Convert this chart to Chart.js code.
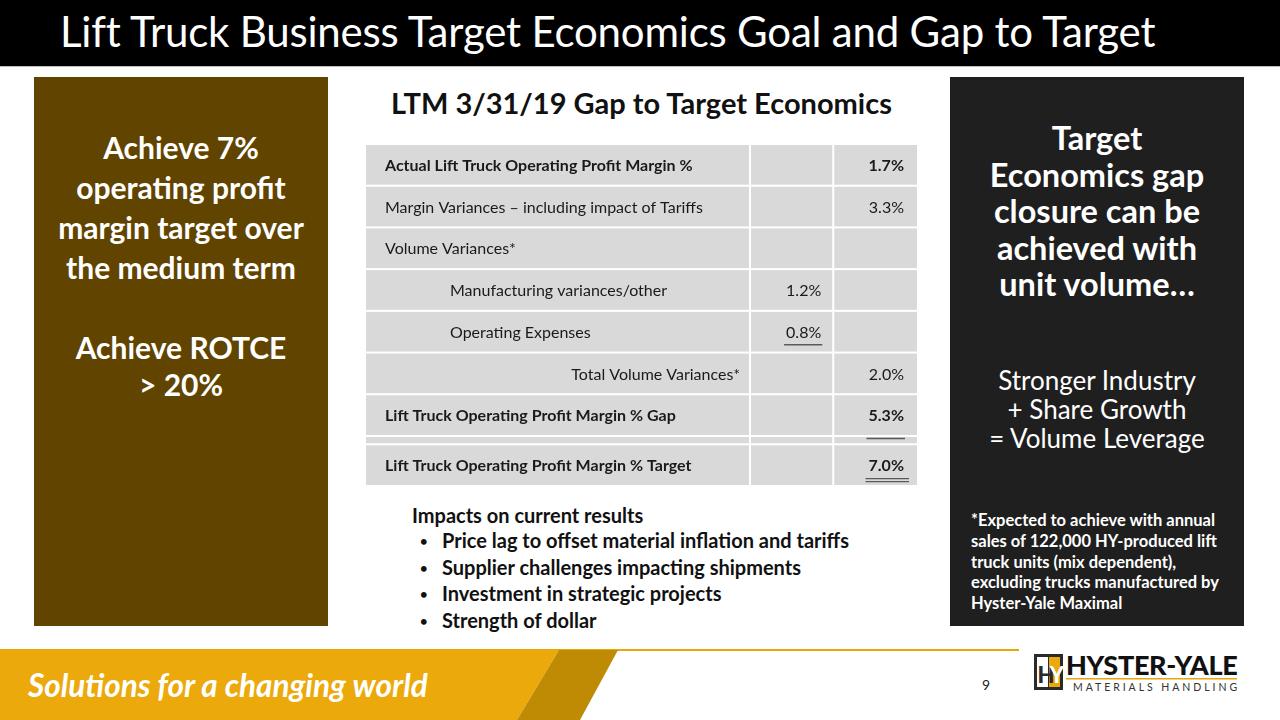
<!DOCTYPE html>
<html>
<head>
<meta charset="utf-8">
<script src="https://cdn.jsdelivr.net/npm/chart.js@4/dist/chart.umd.min.js"></script>
<style>
  html, body { margin:0; padding:0; }
  body { width:1280px; height:720px; position:relative; overflow:hidden; background:#fff; font-family: Lato, "Open Sans", sans-serif; }
  .abs { position:absolute; }
  #titlebar { left:0; top:0; width:1280px; height:66px; background:#000; border-bottom:1px solid #bfbfbf; }
  #title { left:60px; top:6px; color:#fff; font-size:42px; white-space:nowrap; letter-spacing:-0.2px; }
  #leftpanel { left:34px; top:77px; width:294px; height:549px; background:#614400; color:#fff; text-align:center; font-weight:bold; font-size:30px; line-height:40px; }
  #rightpanel { left:950px; top:77px; width:294px; height:549px; background:#1f1f1f; color:#fff; }
  #rp1 { left:0; top:43px; width:294px; text-align:center; font-weight:bold; font-size:32.5px; line-height:36.5px; }
  #rp2 { left:0; top:289px; width:294px; text-align:center; font-size:26px; line-height:29px; }
  #rp3 { left:21px; top:433px; width:273px; font-weight:bold; font-size:16.5px; line-height:20.8px; white-space:nowrap; }
  #midtitle { left:366px; top:85px; width:551px; text-align:center; font-weight:bold; font-size:29px; color:#111; white-space:nowrap; }
  #tablewrap { left:366px; top:144px; width:551px; height:342px; }
  #impacts { left:412px; top:503px; font-weight:bold; font-size:20px; line-height:25.4px; color:#111; white-space:nowrap; }
  #impacts .d { display:inline-block; width:30px; padding-left:8px; box-sizing:border-box; font-size:13px; vertical-align:2px; }
  #banner { left:0; top:648px; width:1280px; height:72px; }
  #slogan { left:28px; top:666px; color:#fff; font-weight:bold; font-style:italic; font-size:31.5px; white-space:nowrap; }
  #pagenum { left:982px; top:676px; font-size:14px; color:#222; }
  #logo1 { left:1066px; top:648px; font-weight:900; font-size:27px; color:#111; letter-spacing:-0.3px; white-space:nowrap; }
  #logo2 { left:1073px; top:681px; font-size:10.5px; color:#333; letter-spacing:2.95px; white-space:nowrap; }
</style>
</head>
<body>
<script>
// ---- Data ----
const rowLabels = [
  "Actual Lift Truck Operating Profit Margin %",
  "Margin Variances \u2013 including impact of Tariffs",
  "Volume Variances*",
  "Manufacturing variances/other",
  "Operating Expenses",
  "Total Volume Variances*",
  "Lift Truck Operating Profit Margin % Gap",
  "",
  "Lift Truck Operating Profit Margin % Target"
];
const componentValues = [null, null, null, 1.2, 0.8, null, null, null, null];
const totalValues = [1.7, 3.3, null, null, null, 2.0, 5.3, null, 7.0];
const columnNames = ["Item", "Component", "Total"];
</script>

<div id="titlebar" class="abs"></div>
<div id="title" class="abs">Lift Truck Business Target Economics Goal and Gap to Target</div>

<div id="leftpanel" class="abs"><div style="height:50px"></div>Achieve 7%<br>operating profit<br>margin target over<br>the medium term<br><br>Achieve ROTCE<br><span style="position:relative;top:-3px">&gt; 20%</span></div>

<div id="rightpanel" class="abs">
  <div id="rp1" class="abs">Target<br>Economics gap<br>closure can be<br>achieved with<br>unit volume…</div>
  <div id="rp2" class="abs">Stronger Industry<br>+ Share Growth<br>= Volume Leverage</div>
  <div id="rp3" class="abs">*Expected to achieve with annual<br>sales of 122,000 HY-produced lift<br>truck units (mix dependent),<br>excluding trucks manufactured by<br>Hyster-Yale Maximal</div>
</div>

<div id="midtitle" class="abs">LTM 3/31/19 Gap to Target Economics</div>
<div id="tablewrap" class="abs"><canvas id="tbl"></canvas></div>

<div id="impacts" class="abs">Impacts on current results<br>
<span class="d">•</span>Price lag to offset material inflation and tariffs<br>
<span class="d">•</span>Supplier challenges impacting shipments<br>
<span class="d">•</span>Investment in strategic projects<br>
<span class="d">•</span>Strength of dollar</div>

<svg id="banner" class="abs" width="1280" height="72" viewBox="0 0 1280 72">
  <rect x="0" y="1" width="1019" height="2" fill="#e8a50c"/>
  <polygon points="0,2 559,2 517,72 0,72" fill="#eca90b"/>
  <polygon points="559,2 618,2 580,72 517,72" fill="#bf8a04"/>
  <g transform="translate(1034,0)">
    <rect x="0" y="6" width="29" height="36" fill="#2a2a2a"/>
    <rect x="3" y="9" width="11" height="30" fill="#fff"/>
    <rect x="15" y="9" width="11" height="30" fill="#eca90b"/>
    <text x="3.5" y="35" font-family="Lato" font-weight="900" font-size="22" fill="#2a2a2a">H</text>
    <text x="15.5" y="35" font-family="Lato" font-weight="900" font-size="22" fill="#fff">Y</text>
  </g>
  <rect x="1066" y="30" width="171" height="1.5" fill="#e8a50c"/>
</svg>
<div id="slogan" class="abs">Solutions for a changing world</div>
<div id="pagenum" class="abs">9</div>
<div id="logo1" class="abs">HYSTER-YALE</div>
<div id="logo2" class="abs">MATERIALS HANDLING</div>

<script>
// ---- Layout / style configuration (not data) ----
const colEdges = [0, 69.7, 84.8, 100];          // x-scale units (percent of table width)
const rowHeights = [1, 1, 1, 1, 1, 1, 1, 0.2, 1]; // y-scale units
const boldRows = new Set([0, 6, 8]);
const indentRows = new Set([3, 4]);
const rightLabelRows = new Set([5]);
const singleUnderlineComponent = new Set([4]);
const spacerUnderlineTotal = new Set([7]);
const doubleUnderlineTotal = new Set([8]);

const rowStarts = [];
rowHeights.reduce((acc, h) => { rowStarts.push(acc); return acc + h; }, 0);
const totalRows = rowHeights.reduce((a, b) => a + b, 0);

const fmt = v => v.toFixed(1) + "%";
const FONT = "Lato, 'Open Sans', sans-serif";
const FS = '16px ';

const tablePlugin = {
  id: 'tableCells',
  afterDraw(chart) {
    const ctx = chart.ctx;
    const xs = chart.scales.x, ys = chart.scales.y;
    const px = v => xs.getPixelForValue(v);
    const py = v => ys.getPixelForValue(v);
    ctx.save();
    rowLabels.forEach((lab, r) => {
      const y0 = py(rowStarts[r]), y1 = py(rowStarts[r] + rowHeights[r]);
      for (let c = 0; c < colEdges.length - 1; c++) {
        const x0 = px(colEdges[c]), x1 = px(colEdges[c + 1]);
        ctx.fillStyle = '#d9d9d9';
        ctx.fillRect(x0 + (c ? 1 : 0), y0 + 1, (x1 - x0) - (c ? 1 : 0) - (c < 2 ? 1 : 0), (y1 - y0) - 2);
      }
    });
    ctx.textBaseline = 'middle';
    ctx.fillStyle = '#1a1a1a';
    ctx.strokeStyle = '#5a5a5a';
    rowLabels.forEach((lab, r) => {
      const y0 = py(rowStarts[r]), y1 = py(rowStarts[r] + rowHeights[r]);
      const yc = (y0 + y1) / 2 + 1;
      ctx.font = (boldRows.has(r) ? 'bold ' : '') + FS + FONT;
      if (lab) {
        if (rightLabelRows.has(r)) {
          ctx.textAlign = 'right';
          ctx.fillText(lab, px(colEdges[1]) - 10, yc);
        } else {
          ctx.textAlign = 'left';
          ctx.fillText(lab, px(colEdges[0]) + (indentRows.has(r) ? 84 : 19), yc);
        }
      }
      ctx.textAlign = 'right';
      if (componentValues[r] != null) {
        const t = fmt(componentValues[r]);
        const xr = px(colEdges[2]) - 12;
        ctx.fillText(t, xr, yc);
        if (singleUnderlineComponent.has(r)) {
          const w = ctx.measureText(t).width;
          ctx.lineWidth = 1.5;
          ctx.beginPath(); ctx.moveTo(xr - w - 2, yc + 12); ctx.lineTo(xr + 1, yc + 12); ctx.stroke();
        }
      }
      if (totalValues[r] != null) {
        const t = fmt(totalValues[r]);
        const xr = px(colEdges[3]) - 13;
        ctx.fillText(t, xr, yc);
        if (doubleUnderlineTotal.has(r)) {
          const w = ctx.measureText(t).width;
          ctx.lineWidth = 1.3;
          ctx.beginPath();
          ctx.moveTo(xr - w - 3, yc + 12.5); ctx.lineTo(xr + 5, yc + 12.5);
          ctx.moveTo(xr - w - 3, yc + 15.5); ctx.lineTo(xr + 5, yc + 15.5);
          ctx.stroke();
        }
      }
      if (spacerUnderlineTotal.has(r)) {
        const xr = px(colEdges[3]) - 13;
        ctx.font = 'bold ' + FS + FONT;
        const w = ctx.measureText(fmt(totalValues[r - 1])).width;
        ctx.lineWidth = 1.5;
        ctx.beginPath(); ctx.moveTo(xr - w - 2, y0 + 2.5); ctx.lineTo(xr + 1, y0 + 2.5); ctx.stroke();
      }
    });
    ctx.restore();
  }
};

new Chart(document.getElementById('tbl'), {
  type: 'bar',
  data: { labels: rowLabels, datasets: [] },
  options: {
    responsive: true,
    maintainAspectRatio: false,
    animation: false,
    events: [],
    layout: { padding: 0 },
    plugins: { legend: { display: false }, tooltip: { enabled: false }, title: { display: false } },
    scales: {
      x: { type: 'linear', min: 0, max: 100, offset: false, display: false },
      y: { type: 'linear', min: 0, max: totalRows, reverse: true, offset: false, display: false }
    }
  },
  plugins: [tablePlugin]
});
</script>
</body>
</html>
